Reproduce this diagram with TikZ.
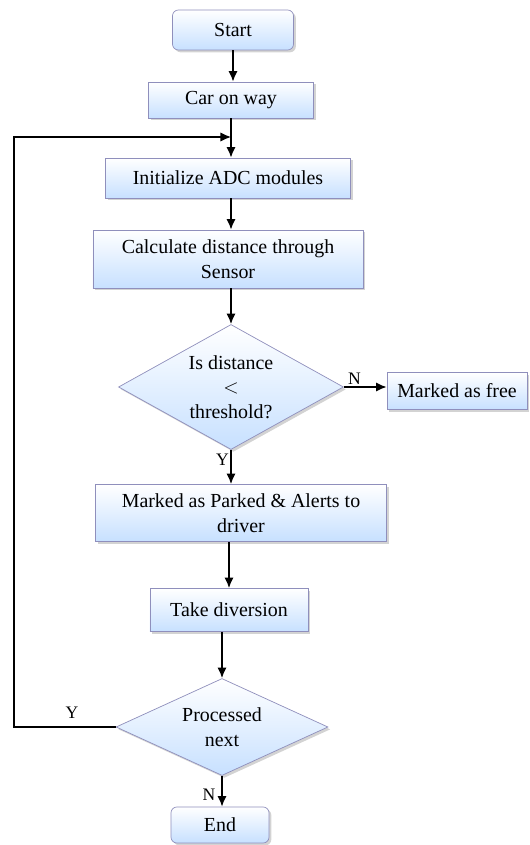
\documentclass[tikz,border=0pt]{standalone}
\usepackage{fontspec}
\setmainfont{Liberation Serif}
\usetikzlibrary{shapes.geometric,shadows,arrows.meta}

\tikzset{
  box/.style={rectangle,draw=blue!25!gray!70,line width=0.6pt,
    top color=white,bottom color=blue!55!cyan!22,
    drop shadow={opacity=0.35,shadow xshift=2pt,shadow yshift=-2pt},
    align=center,inner sep=2pt,font=\fontsize{17}{21}\selectfont},
  rbox/.style={box,rounded corners=5pt},
  decision/.style={box,diamond,aspect=1.8,inner sep=0pt},
  line/.style={line width=1.6pt,-{Latex[length=9pt,width=8pt]}},
  lbl/.style={font=\fontsize{15}{18}\selectfont,inner sep=1pt}
}

\begin{document}
\begin{tikzpicture}[x=0.03cm,y=-0.03cm]
  \useasboundingbox (0,0) rectangle (529,845);

  \node[rbox,minimum width=3.63cm,minimum height=1.2cm] (start) at (233,30) {Start};
  \node[box,minimum width=4.95cm,minimum height=1.08cm] (car) at (231,100) {Car on way};
  \node[box,minimum width=7.35cm,minimum height=1.2cm] (init) at (228,178) {Initialize ADC modules};
  \node[box,minimum width=8.1cm,minimum height=1.74cm] (calc) at (228,259) {Calculate distance through\\Sensor};
  \node[decision,minimum width=6.75cm,minimum height=3.75cm] (dist) at (231,387) {Is distance\\$<$\\threshold?};
  \node[box,minimum width=4.2cm,minimum height=1.11cm] (free) at (457,391) {Marked as free};
  \node[box,minimum width=8.73cm,minimum height=1.71cm] (parked) at (241,513) {Marked as Parked \& Alerts to\\driver};
  \node[box,minimum width=4.74cm,minimum height=1.29cm] (divert) at (229,610) {Take diversion};
  \node[decision,minimum width=6.36cm,minimum height=2.91cm] (proc) at (222,727) {Processed\\next};
  \node[rbox,minimum width=2.94cm,minimum height=1.08cm] (stop) at (220,825) {End};

  \coordinate (corner) at (14,137);
  \coordinate (join) at (231,137);

  \draw[line] (start.south) -- (start.south |- car.north);
  \draw[line] (car.south) -- (car.south |- init.north);
  \draw[line] (init.south -| dist.north) -- (calc.north -| dist.north);
  \draw[line] (calc.south -| dist.north) -- (dist.north);
  \draw[line] (dist.east) -- node[lbl,above,pos=0.25] (nfree) {N} (dist.east -| free.west);
  \draw[line] (dist.south) -- node[lbl,left,pos=0.3] (ypark) {Y} (dist.south |- parked.north);
  \draw[line] (parked.south -| divert.north) -- (divert.north);
  \draw[line] (divert.south -| proc.north) -- (proc.north);
  \draw[line] (proc.south) -- node[lbl,left=4pt,pos=0.6] (nend) {N} (proc.south |- stop.north);
  \draw[line,line width=1.2pt] (proc.west) -| (corner) -- (join);
  \node[lbl] (yloop) at (72,713) {Y};
\end{tikzpicture}
\end{document}
